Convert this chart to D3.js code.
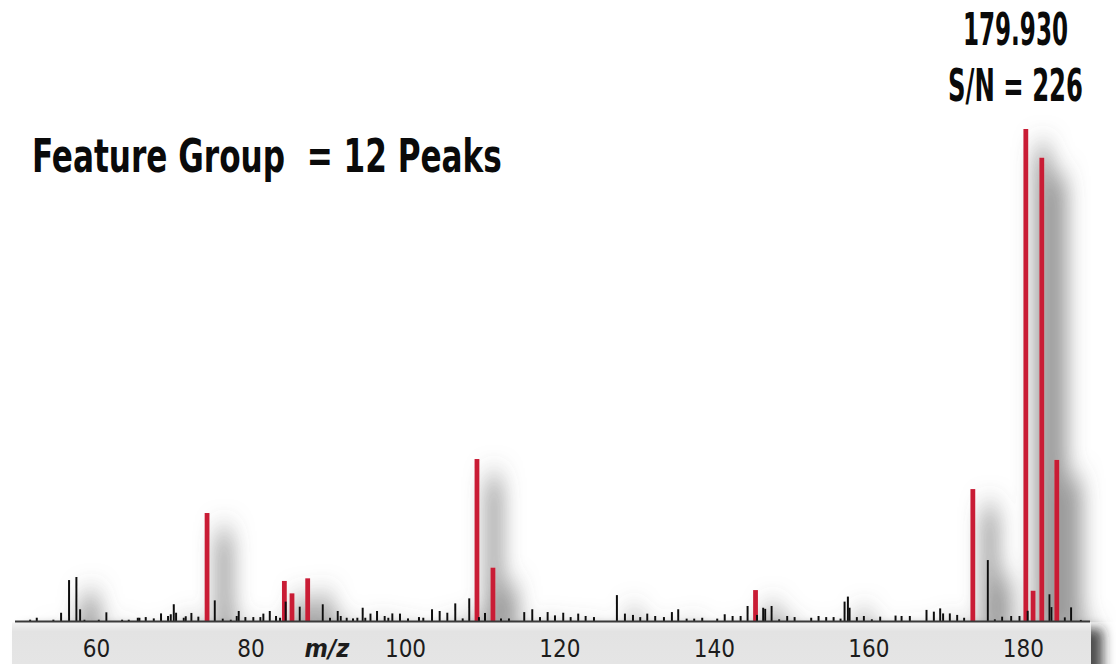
<!DOCTYPE html>
<html>
<head>
<meta charset="utf-8">
<script src="https://cdn.jsdelivr.net/npm/d3@7"></script>
<style>
  html, body { margin: 0; padding: 0; background: #ffffff; }
  svg { display: block; }
  .cond { font-family: "Liberation Sans Narrow", "DejaVu Sans Condensed", "Roboto", sans-serif; }
</style>
</head>
<body>
<svg id="chart" width="1116" height="664"></svg>
<script>
// ---- Data (m/z, S/N) ----
const featureMz = [74.37, 84.38, 85.37, 87.40, 109.32, 111.39, 145.39, 173.53, 180.39, 181.33, 182.46, 184.40];
const featureSN = [49.6, 18.4, 12.7, 19.6, 74.4, 24.5, 14.2, 60.6, 226, 13.9, 212.8, 74.0];

const noiseMz = [51.46, 52.32, 54.47, 55.47, 56.50, 57.45, 57.93, 58.49, 60.35, 61.33,
  63.37, 64.23, 65.40, 65.61, 66.43, 67.47, 68.41, 69.32, 69.67, 70.06,
  70.36, 71.35, 71.61, 72.34, 73.24, 75.37, 76.40, 77.44, 78.21, 78.47,
  79.33, 80.36, 81.27, 81.66, 82.49, 83.30, 83.82, 84.55, 86.37, 89.35,
  90.29, 91.29, 91.68, 92.45, 93.27, 93.83, 94.52, 94.86, 95.53, 96.38,
  97.37, 97.84, 98.36, 99.35, 100.39, 101.81, 102.37, 103.50, 104.49, 105.48,
  106.51, 107.47, 108.32, 109.58, 110.36, 112.43, 113.46, 115.44, 116.48, 117.48,
  118.47, 119.42, 120.49, 121.45, 122.43, 123.39, 124.47, 127.44, 128.48, 129.52,
  130.46, 131.37, 132.40, 133.53, 134.56, 135.38, 136.47, 137.45, 138.49, 140.43,
  141.40, 142.42, 143.46, 144.36, 145.58, 146.38, 146.64, 147.47, 148.45, 149.49,
  150.45, 152.60, 153.55, 154.54, 155.50, 156.40, 156.92, 157.35, 157.57, 158.51,
  159.42, 160.45, 161.53, 163.52, 164.30, 165.37, 167.53, 168.48, 169.30, 169.68,
  170.55, 171.50, 172.40, 175.47, 176.38, 177.32, 178.49, 179.57, 180.63, 183.45,
  183.71, 185.44, 186.25, 187.51];
const noiseSN = [0.6, 1.5, 0.6, 3.8, 18.8, 20.2, 5.4, 0.6, 0.6, 4.0,
  0.6, 0.6, 1.5, 1.5, 1.8, 1.2, 3.5, 2.3, 3.1, 7.7,
  3.8, 1.5, 2.2, 3.7, 2.0, 9.5, 1.1, 0.6, 2.3, 4.6,
  1.8, 1.8, 1.8, 3.4, 4.6, 2.3, 1.5, 8.9, 6.6, 7.7,
  1.5, 4.6, 2.3, 1.5, 1.2, 1.5, 6.1, 1.5, 3.4, 4.6,
  2.3, 1.5, 3.5, 3.4, 1.2, 1.8, 1.5, 5.4, 4.6, 3.8,
  8.1, 1.2, 10.4, 1.8, 3.7, 1.2, 1.2, 4.1, 5.4, 1.8,
  4.1, 2.6, 3.8, 1.8, 3.4, 2.3, 1.8, 11.9, 3.4, 2.8,
  1.8, 3.4, 2.3, 1.8, 4.1, 5.4, 1.1, 1.1, 1.5, 1.1,
  3.1, 2.3, 2.3, 6.9, 2.8, 6.1, 5.6, 6.9, 0.8, 2.3,
  1.8, 1.5, 2.3, 1.8, 1.8, 1.1, 8.9, 11.2, 6.1, 1.8,
  2.3, 0.8, 2.0, 2.5, 2.3, 2.3, 5.1, 4.3, 5.8, 3.5,
  3.5, 2.8, 1.5, 28.0, 0.8, 2.0, 2.3, 2.3, 4.7, 12.3,
  6.4, 1.7, 6.3, 0.5];

const xTicks = [60, 80, 100, 120, 140, 160, 180];
const xAxisLabel = "m/z";
const axisLabelMz = 89.9;
const titleText = "Feature Group  = 12 Peaks";
const peakLabelMz = "179.930";
const peakLabelSN = "S/N = 226";

// ---- Layout ----
const svg = d3.select("#chart");
const x = d3.scaleLinear().domain([49.5, 188.7]).range([15, 1090]);
const y = d3.scaleLinear().domain([0, 226]).range([621, 129]);

const defs = svg.append("defs");

// soft, wide drop shadow for peaks
const f1 = defs.append("filter").attr("id", "peakShadow")
  .attr("filterUnits", "userSpaceOnUse")
  .attr("x", 0).attr("y", 0).attr("width", 1116).attr("height", 622);
f1.append("feMorphology").attr("in", "SourceAlpha").attr("operator", "dilate")
  .attr("radius", "6 0").attr("result", "wide");
f1.append("feGaussianBlur").attr("in", "wide").attr("stdDeviation", "10 14").attr("result", "blur");
f1.append("feOffset").attr("in", "blur").attr("dx", 17).attr("dy", 18).attr("result", "off");
f1.append("feFlood").attr("flood-color", "#5a5a5a").attr("flood-opacity", 0.6).attr("result", "col");
f1.append("feComposite").attr("in", "col").attr("in2", "off").attr("operator", "in").attr("result", "shadow");
const m1 = f1.append("feMerge");
m1.append("feMergeNode").attr("in", "shadow");
m1.append("feMergeNode").attr("in", "SourceGraphic");

// drop shadow for axis bar
const f2 = defs.append("filter").attr("id", "barShadow")
  .attr("x", "-5%").attr("y", "-50%").attr("width", "115%").attr("height", "250%");
f2.append("feGaussianBlur").attr("in", "SourceAlpha").attr("stdDeviation", 6).attr("result", "blur");
f2.append("feOffset").attr("in", "blur").attr("dx", 12).attr("dy", 6).attr("result", "off");
f2.append("feFlood").attr("flood-color", "#222").attr("flood-opacity", 0.8).attr("result", "col");
f2.append("feComposite").attr("in", "col").attr("in2", "off").attr("operator", "in").attr("result", "shadow");
const m2 = f2.append("feMerge");
m2.append("feMergeNode").attr("in", "shadow");
m2.append("feMergeNode").attr("in", "SourceGraphic");

const grad = defs.append("linearGradient").attr("id", "barGrad")
  .attr("x1", 0).attr("y1", 0).attr("x2", 0).attr("y2", 1);
grad.append("stop").attr("offset", "0%").attr("stop-color", "#f3f3f3");
grad.append("stop").attr("offset", "15%").attr("stop-color", "#e3e3e3");
grad.append("stop").attr("offset", "70%").attr("stop-color", "#e5e5e5");
grad.append("stop").attr("offset", "100%").attr("stop-color", "#efefef");

// axis bar
const [r0, r1] = x.range();
svg.append("rect")
  .attr("x", r0 - 3).attr("y", y(0) + 1.5)
  .attr("width", r1 - r0 + 4).attr("height", 60)
  .attr("fill", "url(#barGrad)")
  .attr("filter", "url(#barShadow)");

// peaks
const peaks = svg.append("g").attr("filter", "url(#peakShadow)");
const featureData = featureMz.map((m, i) => ({ m, v: featureSN[i] }));
const noiseData = noiseMz.map((m, i) => ({ m, v: noiseSN[i] }));

peaks.selectAll("rect.feat").data(featureData).join("rect")
  .attr("class", "feat")
  .attr("x", d => x(d.m) - 2.4)
  .attr("width", 4.8)
  .attr("y", d => y(d.v))
  .attr("height", d => y(0) - y(d.v))
  .attr("fill", "#c91d36");

peaks.selectAll("rect.noise").data(noiseData).join("rect")
  .attr("class", "noise")
  .attr("x", d => x(d.m) - 1)
  .attr("width", 2)
  .attr("y", d => y(d.v))
  .attr("height", d => y(0) - y(d.v))
  .attr("fill", "#111");

// baseline
svg.append("line")
  .attr("x1", r0).attr("x2", r1)
  .attr("y1", y(0) + 0.5).attr("y2", y(0) + 0.5)
  .attr("stroke", "#3a3a3a").attr("stroke-width", 2);

// x axis labels
const axis = d3.axisBottom(x).tickValues(xTicks).tickSize(0).tickFormat(d3.format("d"));
const gx = svg.append("g").attr("transform", `translate(0,${y(0)})`).call(axis);
gx.select(".domain").remove();
gx.selectAll("text")
  .attr("y", 36).attr("dy", null)
  .attr("class", "cond")
  .style("font-size", "24px")
  .attr("fill", "#1c1c1c");

svg.append("text")
  .attr("class", "cond")
  .attr("x", x(axisLabelMz)).attr("y", y(0) + 36)
  .attr("text-anchor", "middle")
  .style("font-size", "25px").style("font-weight", "bold").style("font-style", "italic")
  .attr("fill", "#1c1c1c")
  .text(xAxisLabel);

// titles: measured, then horizontally scaled to the reference width
function fittedText(str, left, baseline, size, targetWidth) {
  const g = svg.append("g");
  const t = g.append("text")
    .attr("class", "cond")
    .attr("x", 0).attr("y", 0)
    .style("font-size", size + "px").style("font-weight", "bold").style("white-space", "pre")
    .attr("fill", "#0a0a0a")
    .text(str);
  const w = t.node().getComputedTextLength();
  const sx = targetWidth / w;
  g.attr("transform", `translate(${left},${baseline}) scale(${sx},1)`);
}
fittedText(titleText, 32, 172, 46, 470);
fittedText(peakLabelMz, 963, 45, 45, 105);
fittedText(peakLabelSN, 948, 101, 45, 135);
</script>
</body>
</html>
